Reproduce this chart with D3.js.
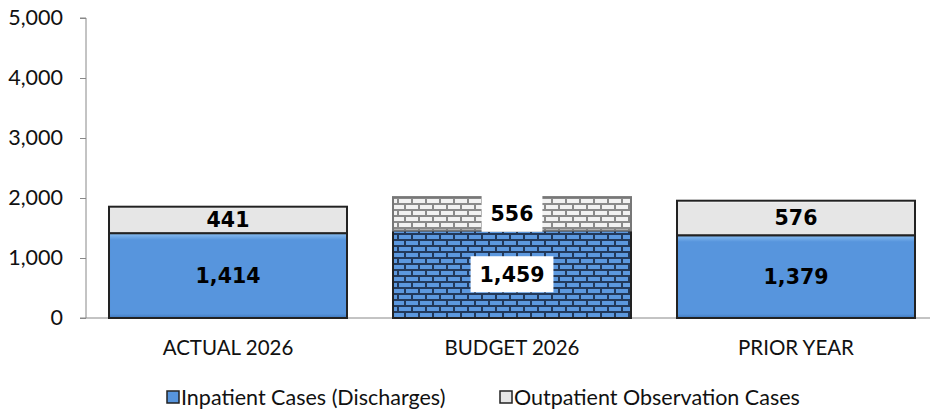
<!DOCTYPE html>
<meta charset="utf-8">
<title>Cases</title>
<style>
    body { margin: 0; background: #fff; }
    .tick text { font-family: Lato, "Open Sans", sans-serif; }
</style>
<script src="https://d3js.org/d3.v7.js"></script>
<body>
<script>
    // data
    const categories = ["ACTUAL 2026", "BUDGET 2026", "PRIOR YEAR"];
    const inpatient = [1414, 1459, 1379];
    const outpatient = [441, 556, 576];
    const seriesNames = ["Inpatient Cases (Discharges)", "Outpatient Observation Cases"];
    const yTicks = [0, 1000, 2000, 3000, 4000, 5000];

    const W = 930, H = 411;
    const margin = { top: 18, right: -8, bottom: 93, left: 86 };

    const svg = d3.select("body").append("svg")
        .attr("width", W)
        .attr("height", H);

    const defs = svg.append("defs");

    // bevel gradients
    function bevel(id, top, mid, bottom) {
        const g = defs.append("linearGradient").attr("id", id)
            .attr("x1", 0).attr("y1", 0).attr("x2", 0).attr("y2", 1);
        g.append("stop").attr("offset", 0).attr("stop-color", top);
        g.append("stop").attr("offset", 0.08).attr("stop-color", mid);
        g.append("stop").attr("offset", 0.95).attr("stop-color", mid);
        g.append("stop").attr("offset", 1).attr("stop-color", bottom);
    }
    bevel("gBlue", "#8cc0f2", "#5795dd", "#3f78bd");
    bevel("gGray", "#ffffff", "#e6e6e6", "#c8c8c8");

    // brick patterns for the budget bar
    function brick(id, fill, mortar) {
        const p = defs.append("pattern").attr("id", id)
            .attr("patternUnits", "userSpaceOnUse")
            .attr("width", 14).attr("height", 12);
        p.append("rect").attr("width", 14).attr("height", 12).attr("fill", mortar);
        p.append("rect").attr("x", 0).attr("y", 1).attr("width", 12).attr("height", 4).attr("fill", fill);
        p.append("rect").attr("x", -7).attr("y", 7).attr("width", 12).attr("height", 4).attr("fill", fill);
        p.append("rect").attr("x", 7).attr("y", 7).attr("width", 12).attr("height", 4).attr("fill", fill);
    }
    brick("bBlue", "#5c98de", "#22395a");
    brick("bGray", "#f2f2f2", "#8a8a8a");

    const x = d3.scaleBand()
        .domain(categories)
        .range([margin.left, 938])
        .paddingInner(0.162)
        .paddingOuter(0.081);

    const y = d3.scaleLinear()
        .domain([0, 5000])
        .range([H - margin.bottom, margin.top]);

    // y axis
    const yAxis = svg.append("g")
        .attr("transform", `translate(${margin.left},0)`)
        .call(d3.axisLeft(y).tickValues(yTicks).tickFormat(d3.format(",")).tickSize(6).tickPadding(17));
    yAxis.select(".domain").attr("stroke", "#888").attr("d", `M-6,${y(5000)}H0V${y(0)}`);
    yAxis.selectAll(".tick line").attr("stroke", "#888");
    yAxis.selectAll(".tick text").attr("font-size", 21.5).attr("fill", "#111");

    // x axis line
    svg.append("line")
        .attr("x1", margin.left - 6).attr("x2", W)
        .attr("y1", y(0)).attr("y2", y(0))
        .attr("stroke", "#888");

    const rows = categories.map((c, i) => ({ cat: c, inp: inpatient[i], out: outpatient[i], budget: i === 1 }));

    const g = svg.append("g");

    // inpatient segments
    g.selectAll(".inp").data(rows).join("rect")
        .attr("x", d => x(d.cat))
        .attr("y", d => y(d.inp))
        .attr("width", x.bandwidth())
        .attr("height", d => y(0) - y(d.inp))
        .attr("fill", d => d.budget ? "url(#bBlue)" : "url(#gBlue)")
        .attr("stroke", "#222")
        .attr("stroke-width", 2);

    // outpatient segments
    g.selectAll(".out").data(rows).join("rect")
        .attr("x", d => x(d.cat))
        .attr("y", d => y(d.inp + d.out))
        .attr("width", x.bandwidth())
        .attr("height", d => y(d.inp) - y(d.inp + d.out))
        .attr("fill", d => d.budget ? "url(#bGray)" : "url(#gGray)")
        .attr("stroke", d => d.budget ? "#777" : "#222")
        .attr("stroke-width", 2);

    // value labels
    const labels = [];
    rows.forEach(d => {
        labels.push({ cat: d.cat, v: d.inp, yc: (y(0) + y(d.inp)) / 2, box: d.budget });
        labels.push({ cat: d.cat, v: d.out, yc: (y(d.inp) + y(d.inp + d.out)) / 2, box: d.budget });
    });

    const lg = svg.append("g").selectAll("g").data(labels).join("g")
        .attr("transform", d => `translate(${x(d.cat) + x.bandwidth() / 2},${d.yc})`);
    lg.append("text")
        .attr("text-anchor", "middle")
        .attr("dy", "0.36em")
        .attr("font-family", "DejaVu Sans, Verdana, sans-serif")
        .attr("font-weight", "bold")
        .attr("font-size", 20.5)
        .attr("fill", "#000")
        .text(d => d3.format(",")(d.v));
    lg.filter(d => d.box).insert("rect", "text")
        .each(function () {
            const t = this.parentNode.querySelector("text").getBBox();
            d3.select(this)
                .attr("x", t.x - 9).attr("y", -18)
                .attr("width", t.width + 18).attr("height", 36)
                .attr("fill", "#fff");
        });

    // category labels
    svg.append("g").selectAll("text").data(categories).join("text")
        .attr("x", d => x(d) + x.bandwidth() / 2)
        .attr("y", 355)
        .attr("text-anchor", "middle")
        .attr("font-family", "Lato, 'Open Sans', sans-serif")
        .attr("font-size", 20.5)
        .attr("fill", "#111")
        .text(d => d);

    // legend
    const legendX = [167, 500];
    const leg = svg.append("g").selectAll("g").data(seriesNames).join("g")
        .attr("transform", (d, i) => `translate(${legendX[i]},391)`);
    leg.append("rect")
        .attr("width", 12).attr("height", 12)
        .attr("fill", (d, i) => i === 0 ? "url(#gBlue)" : "url(#gGray)")
        .attr("stroke", "#222").attr("stroke-width", 1.5);
    leg.append("text")
        .attr("x", 14).attr("y", 13.5)
        .attr("font-family", "Lato, 'Open Sans', sans-serif")
        .attr("font-size", 21.5)
        .attr("fill", "#111")
        .text(d => d);
</script>
</body>
